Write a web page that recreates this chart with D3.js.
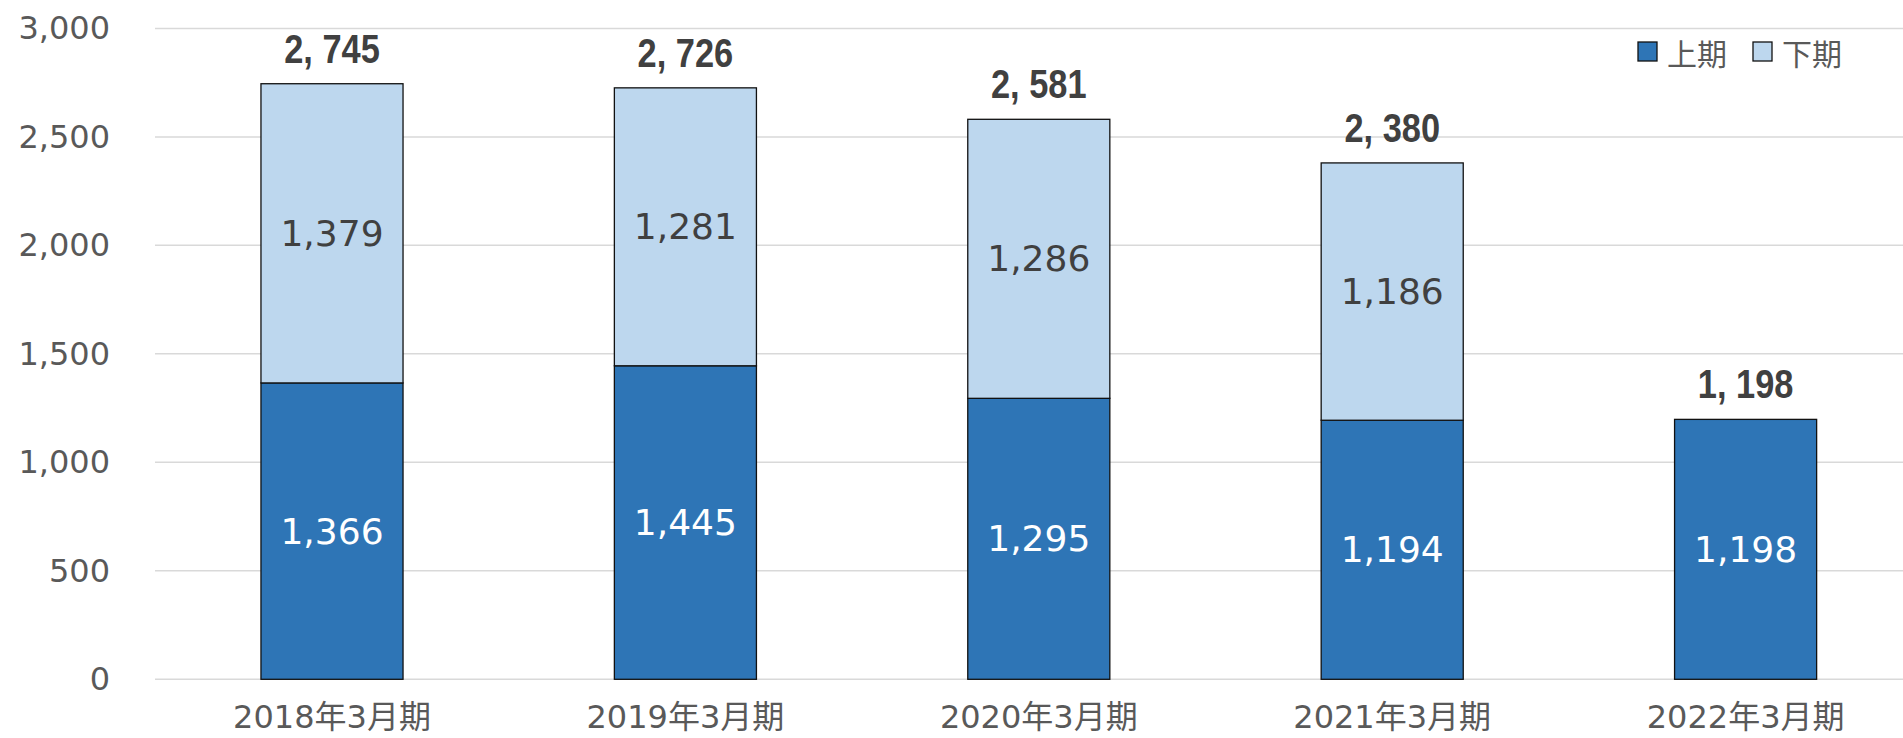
<!DOCTYPE html>
<html>
<head>
<meta charset="utf-8">
<script src="https://cdn.jsdelivr.net/npm/d3@7"></script>
<style>
  html, body { margin: 0; padding: 0; background: #fff; }
  svg { display: block; }
</style>
</head>
<body>
<div id="chart"></div>
<script>
// data
const categories = ["2018年3月期", "2019年3月期", "2020年3月期", "2021年3月期", "2022年3月期"];
const firstHalf = [1366, 1445, 1295, 1194, 1198];   // 上期
const secondHalf = [1379, 1281, 1286, 1186, null];  // 下期
const seriesNames = ["上期", "下期"];
const yTicks = [0, 500, 1000, 1500, 2000, 2500, 3000];

const width = 1903, height = 738;
const colors = ["#2E75B6", "#BDD7EE"];
const numFont = "'DejaVu Sans', Verdana, 'Noto Sans CJK JP', sans-serif";
const cjkFont = "'DejaVu Sans', 'Noto Sans CJK JP', sans-serif";

const svg = d3.select("#chart").append("svg")
    .attr("width", width)
    .attr("height", height);

// scales
const x = d3.scaleBand()
    .domain(categories)
    .range([155.3, 1922.3])
    .paddingInner(0.598)
    .paddingOuter(0.299);

const y = d3.scaleLinear()
    .domain([0, 3000])
    .range([679.3, 28.4]);

// gridlines
svg.append("g")
    .selectAll("line")
    .data(yTicks)
    .join("line")
    .attr("x1", 155)
    .attr("x2", width)
    .attr("y1", d => y(d))
    .attr("y2", d => y(d))
    .attr("stroke", "#d9d9d9")
    .attr("stroke-width", 1.5);

// y axis labels
const yAxis = svg.append("g")
    .attr("transform", "translate(110,0)")
    .call(d3.axisLeft(y).tickValues(yTicks).tickFormat(d3.format(",")).tickSize(0).tickPadding(0));
yAxis.select(".domain").remove();
yAxis.selectAll("text")
    .attr("fill", "#595959")
    .style("font-family", numFont)
    .style("font-size", "32px");

// x axis labels
const xAxis = svg.append("g")
    .attr("transform", `translate(0,${y(0)})`)
    .call(d3.axisBottom(x).tickSize(0).tickPadding(26));
xAxis.select(".domain").remove();
xAxis.selectAll("text")
    .attr("fill", "#595959")
    .style("font-family", cjkFont)
    .style("font-size", "32px");

// stack data
const rows = categories.map((c, i) => ({ cat: c, a: firstHalf[i], b: secondHalf[i] }));

rows.forEach(r => {
    const x0 = x(r.cat), bw = x.bandwidth(), cx = x0 + bw / 2;
    const total = r.a + (r.b || 0);

    // 上期
    svg.append("rect")
        .attr("x", x0).attr("width", bw)
        .attr("y", y(r.a)).attr("height", y(0) - y(r.a))
        .attr("fill", colors[0])
        .attr("stroke", "#111").attr("stroke-width", 1.3);
    svg.append("text")
        .attr("x", cx).attr("y", (y(0) + y(r.a)) / 2)
        .attr("text-anchor", "middle").attr("dominant-baseline", "central")
        .attr("fill", "#fff")
        .style("font-family", numFont).style("font-size", "36px")
        .text(d3.format(",")(r.a));

    // 下期
    if (r.b != null) {
        svg.append("rect")
            .attr("x", x0).attr("width", bw)
            .attr("y", y(total)).attr("height", y(r.a) - y(total))
            .attr("fill", colors[1])
            .attr("stroke", "#111").attr("stroke-width", 1.3);
        svg.append("text")
            .attr("x", cx).attr("y", (y(r.a) + y(total)) / 2)
            .attr("text-anchor", "middle").attr("dominant-baseline", "central")
            .attr("fill", "#404040")
            .style("font-family", numFont).style("font-size", "36px")
            .text(d3.format(",")(r.b));
    }

    // total above bar (condensed look)
    svg.append("text")
        .attr("transform", `translate(${cx},${y(total) - 21}) scale(0.86,1)`)
        .attr("text-anchor", "middle")
        .attr("fill", "#404040")
        .style("font-family", "'Liberation Sans', Arial, sans-serif")
        .style("font-weight", "bold")
        .style("font-size", "40px")
        .text(d3.format(",")(total).replace(",", ", "));
});

// legend
const legendX = [1638, 1753];
seriesNames.forEach((name, i) => {
    const g = svg.append("g").attr("transform", `translate(${legendX[i]},42)`);
    g.append("rect")
        .attr("width", 19).attr("height", 19)
        .attr("fill", colors[i])
        .attr("stroke", "#111").attr("stroke-width", 1.3);
    g.append("text")
        .attr("x", 29).attr("y", 9.5)
        .attr("dominant-baseline", "central")
        .attr("fill", "#595959")
        .style("font-family", "'Noto Sans CJK JP', sans-serif")
        .style("font-size", "30px")
        .text(name);
});
</script>
</body>
</html>
